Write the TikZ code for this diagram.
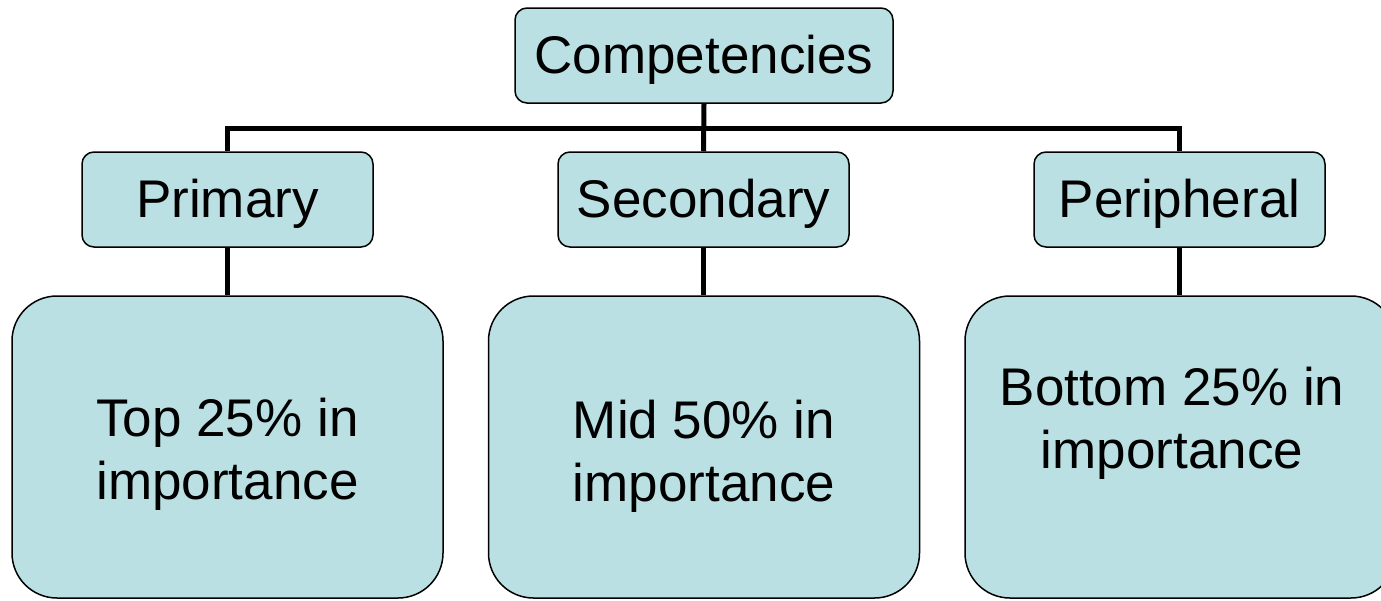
\documentclass[tikz,border=0pt]{standalone}
\usepackage{fontspec}
\setmainfont{Liberation Sans}
\definecolor{boxfill}{RGB}{186,224,227}
\begin{document}
\begin{tikzpicture}[x=1pt,y=-1pt,
  box/.style={draw=black,line width=1.5pt,fill=boxfill,rounded corners=12pt,inner sep=0pt,
    font=\fontsize{53}{63}\selectfont,align=center},
  bigbox/.style={box,rounded corners=45pt,minimum width=431pt,minimum height=302pt},
  onebox/.style={box,minimum height=95pt,text height=38pt,text depth=3pt},
  midbox/.style={onebox,minimum width=291pt},
  txt/.style={font=\fontsize{53}{63}\selectfont,align=center,inner sep=0pt},
  link/.style={line width=5pt}]
\useasboundingbox (0,0) rectangle (1381,600);
\node[onebox,minimum width=378pt] (top) at (704,55.5) {Competencies};
\node[midbox] (p) at (227.5,199.5) {Primary};
\node[midbox] (s) at (703.5,199.5) {Secondary};
\node[midbox] (r) at (1179.5,199.5) {Peripheral};
\node[bigbox] (pb) at (227.5,447) {};
\node[bigbox] (sb) at (704,447) {};
\node[bigbox] (rb) at (1180.5,447) {};
\node[txt] (pt) at (227.5,454) {Top 25\% in\\importance};
\node[txt] (st) at (704,456) {Mid 50\% in\\importance};
\node[txt] (rt) at (1172,423) {Bottom 25\% in\\importance};
\coordinate (bar) at (704,128);
\draw[link] (top.south) -- (s.north);
\draw[link] (p.north) |- (bar) -| (r.north);
\draw[link] (p.south) -- (pb.north -| p.south);
\draw[link] (s.south) -- (sb.north -| s.south);
\draw[link] (r.south) -- (rb.north -| r.south);
\end{tikzpicture}
\end{document}
